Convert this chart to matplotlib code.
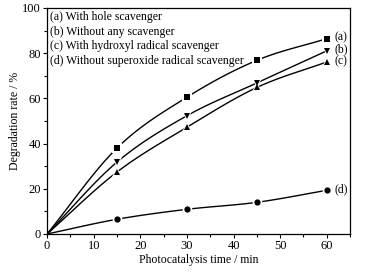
import numpy as np
import matplotlib
matplotlib.use('Agg')
import matplotlib.pyplot as plt
from matplotlib.ticker import MultipleLocator

plt.rcParams.update({
    "font.family": "Liberation Serif",
    "font.size": 8.5,
    "axes.linewidth": 0.9,
})

# ── data ────────────────────────────────────────────────────────────────
time_min = [0, 15, 30, 45, 60]
rate_a = [0, 38.0, 60.5, 76.8, 86.4]
rate_b = [0, 31.8, 52.3, 66.8, 81.0]
rate_c = [0, 27.4, 47.2, 64.8, 76.1]
rate_d = [0, 6.5, 10.9, 14.0, 19.3]

series = [
    (rate_a, "s", "(a)", "(a) With hole scavenger"),
    (rate_b, "v", "(b)", "(b) Without any scavenger"),
    (rate_c, "^", "(c)", "(c) With hydroxyl radical scavenger"),
    (rate_d, "o", "(d)", "(d) Without superoxide radical scavenger"),
]


def smooth(x, y, n=30):
    # Catmull-Rom curve through the points, only for a smooth drawn line
    x = np.asarray(x, float)
    y = np.asarray(y, float)
    px = np.concatenate([[2 * x[0] - x[1]], x, [2 * x[-1] - x[-2]]])
    py = np.concatenate([[2 * y[0] - y[1]], y, [2 * y[-1] - y[-2]]])
    xs, ys = [], []
    t = np.linspace(0, 1, n)
    for i in range(1, len(px) - 2):
        for p, out in ((px, xs), (py, ys)):
            p0, p1, p2, p3 = p[i - 1], p[i], p[i + 1], p[i + 2]
            out.append(0.5 * (2 * p1 + (-p0 + p2) * t
                              + (2 * p0 - 5 * p1 + 4 * p2 - p3) * t ** 2
                              + (-p0 + 3 * p1 - 3 * p2 + p3) * t ** 3))
    return np.concatenate(xs), np.concatenate(ys)


fig = plt.figure(figsize=(3.65, 2.73), dpi=100)
ax = fig.add_axes([0.129, 0.143, 0.830, 0.828])

for vals, mk, tag, _ in series:
    sx, sy = smooth(time_min, vals)
    ax.plot(sx, sy, color="k", lw=1.0, zorder=2)
    ax.plot(time_min[1:], vals[1:], mk, color="white", ms=7, mew=0, zorder=3)
    ax.plot(time_min[1:], vals[1:], mk, color="k", ms=4.5, mew=0, zorder=4)
    ax.text(time_min[-1] + 1.6, vals[-1] + 0.5, tag, va="center", ha="left",
            fontsize=8.5)

for i, (_, _, _, label) in enumerate(series):
    ax.text(0.010, 0.985 - i * 0.064, label, transform=ax.transAxes,
            va="top", ha="left", fontsize=8.5)

ax.set_xlim(0, 65)
ax.set_ylim(0, 100)
ax.xaxis.set_major_locator(MultipleLocator(10))
ax.xaxis.set_minor_locator(MultipleLocator(5))
ax.yaxis.set_major_locator(MultipleLocator(20))
ax.yaxis.set_minor_locator(MultipleLocator(10))
ax.tick_params(which="major", direction="out", length=3, width=0.8, labelsize=9, pad=1.5)
ax.tick_params(which="minor", direction="out", length=2, width=0.8)
ax.set_xlabel("Photocatalysis time / min", fontsize=8.5, labelpad=1)
ax.set_ylabel("Degradation rate / %", fontsize=8.5, labelpad=1)

fig.savefig("out.png", dpi=100)
